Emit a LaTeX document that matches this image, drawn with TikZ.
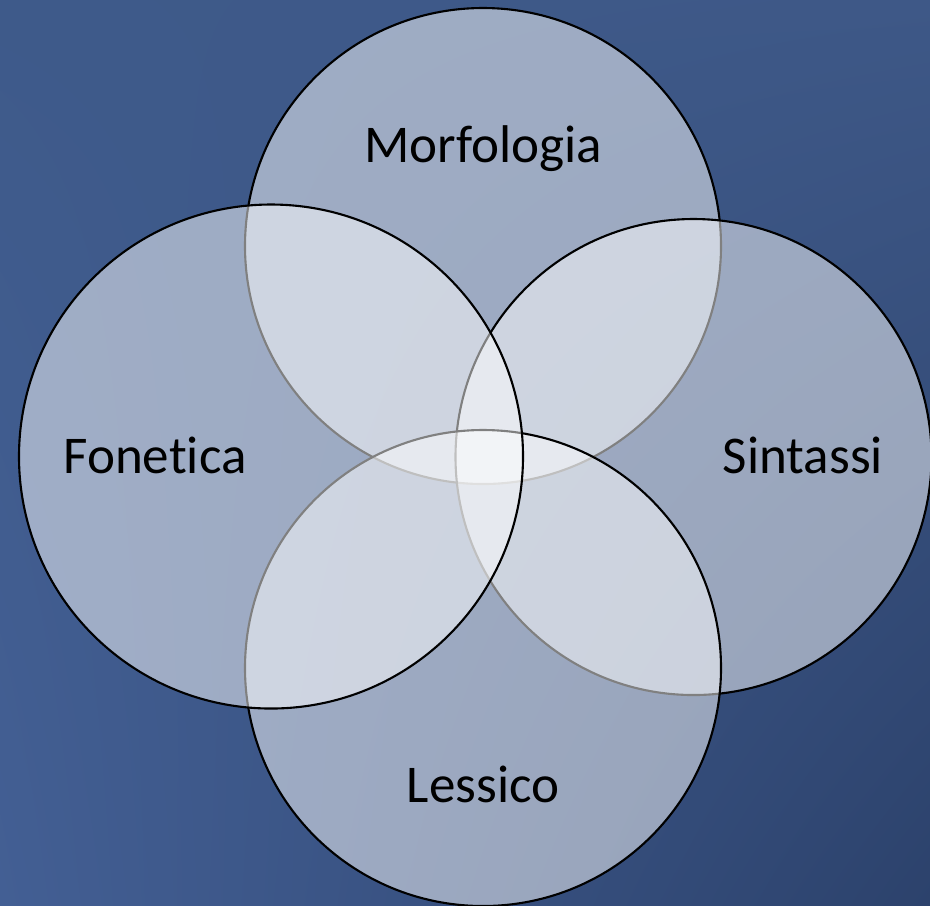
\documentclass[tikz,border=0pt]{standalone}
\usepackage{fontspec}
\setmainfont{Carlito}[Ligatures=NoCommon]
\usepackage{tikz}
\usetikzlibrary{positioning,backgrounds,shadings}
\usepackage{xcolor}
\definecolor{cBgTL}{RGB}{62,90,138}
\definecolor{cBgTR}{RGB}{62,88,135}
\definecolor{cBgBL}{RGB}{67,95,148}
\definecolor{cBgBR}{RGB}{44,66,108}
\tikzset{
  vennbase/.style={circle,draw=black,line width=0.6pt,fill=white,
                   fill opacity=0.5,draw opacity=1,inner sep=0pt},
  vennsmall/.style={vennbase,minimum size=4.76cm},
  vennlarge/.style={vennbase,minimum size=5.04cm},
  vennlabel/.style={anchor=base,inner sep=0pt,text=black,
                    font=\fontsize{15.1}{18}\selectfont}
}

\begin{document}
\begin{tikzpicture}

  % Background
  \shade[upper left=cBgTL,upper right=cBgTR,lower left=cBgBL,lower right=cBgBR]
      (0,0) rectangle (9.30,-9.05);
  \useasboundingbox (0,0) rectangle (9.30,-9.05);

  % Circles, clockwise from the top
  \node[vennsmall] (morf) at (4.83,-2.46) {};
  \node[vennsmall] (sint) at (6.935,-4.57) {};
  \node[vennsmall] (less) at (4.83,-6.68) {};
  \node[vennlarge] (fon)  at (2.71,-4.565) {};

  % Labels
  \node[vennlabel] (morflab) at (4.83,-1.62) {Morfologia};
  \node[vennlabel] (sintlab) at (8.03,-4.73) {Sintassi};
  \node[vennlabel] (lesslab) at (4.83,-8.02) {Lessico};
  \node[vennlabel] (fonlab)  at (1.55,-4.73) {Fonetica};

\end{tikzpicture}
\end{document}
